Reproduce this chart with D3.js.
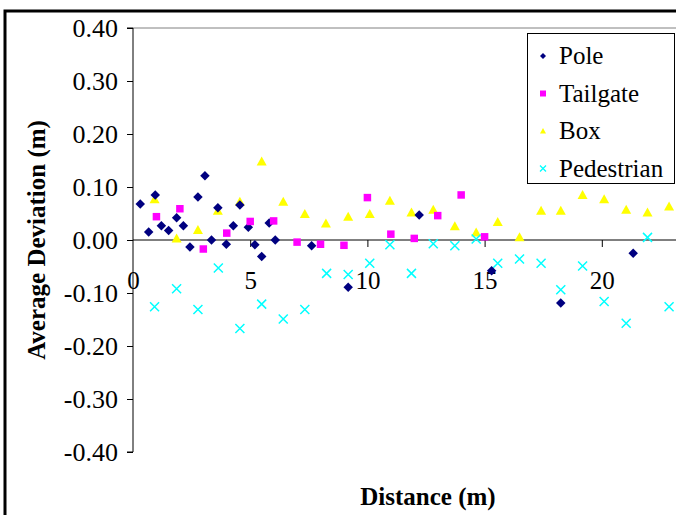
<!DOCTYPE html>
<html>
<head>
<meta charset="utf-8">
<script src="https://cdn.jsdelivr.net/npm/d3@7"></script>
<style>
  body { margin: 0; background: #fff; }
  svg { display: block; }
  text { font-family: "Liberation Serif", "Times New Roman", serif; }
</style>
</head>
<body>
<svg id="chart" width="676" height="515"></svg>
<script>
// ---- data ----
const seriesNames = ["Pole", "Tailgate", "Box", "Pedestrian"];

const poleX = [0.31, 0.67, 0.95, 1.21, 1.52, 1.86, 2.15, 2.43, 2.77, 3.07, 3.35, 3.62, 3.98, 4.28, 4.56, 4.92, 5.20, 5.49, 5.81, 6.07, 7.62, 9.18, 12.21, 15.30, 18.25, 21.34];
const poleY = [0.068, 0.015, 0.085, 0.027, 0.018, 0.042, 0.027, -0.013, 0.081, 0.121, 0.000, 0.061, -0.008, 0.027, 0.066, 0.024, -0.009, -0.031, 0.032, 0.000, -0.011, -0.089, 0.047, -0.058, -0.119, -0.025];

const tailgateX = [1, 2, 3, 4, 5, 6, 7, 8, 9, 10, 11, 12, 13, 14, 15];
const tailgateY = [0.044, 0.059, -0.017, 0.013, 0.035, 0.036, -0.004, -0.008, -0.010, 0.080, 0.011, 0.003, 0.046, 0.085, 0.006];

const boxX = [0.92, 1.86, 2.77, 3.62, 4.56, 5.49, 6.41, 7.33, 8.23, 9.18, 10.10, 10.96, 11.88, 12.81, 13.73, 14.64, 15.56, 16.49, 17.41, 18.25, 19.18, 20.10, 21.04, 21.95, 22.87];
const boxY = [0.077, 0.003, 0.019, 0.055, 0.072, 0.148, 0.072, 0.049, 0.031, 0.044, 0.049, 0.074, 0.052, 0.057, 0.026, 0.014, 0.034, 0.005, 0.055, 0.055, 0.085, 0.077, 0.057, 0.052, 0.063];

const pedestrianX = [0.92, 1.86, 2.77, 3.64, 4.56, 5.49, 6.41, 7.33, 8.26, 9.18, 10.10, 10.96, 11.88, 12.81, 13.73, 14.64, 15.56, 16.49, 17.41, 18.25, 19.18, 20.10, 21.04, 21.95, 22.87];
const pedestrianY = [-0.126, -0.092, -0.131, -0.053, -0.167, -0.121, -0.149, -0.131, -0.063, -0.065, -0.044, -0.009, -0.063, -0.007, -0.011, 0.002, -0.044, -0.036, -0.044, -0.094, -0.049, -0.116, -0.157, 0.005, -0.126];

const xTicks = [0, 5, 10, 15, 20];
const yTicks = [-0.4, -0.3, -0.2, -0.1, 0.0, 0.1, 0.2, 0.3, 0.4];
const xTitle = "Distance (m)";
const yTitle = "Average Deviation (m)";

// ---- drawing ----
const svg = d3.select("#chart");
const W = 676, H = 515;

svg.append("rect").attr("x", 0).attr("y", 0).attr("width", W).attr("height", H).attr("fill", "#fff");
// outer chart frame (right/bottom beyond crop)
svg.append("rect").attr("x", 5).attr("y", 11).attr("width", W + 20).attr("height", H + 20)
  .attr("fill", "none").attr("stroke", "#000").attr("stroke-width", 3);

const x = d3.scaleLinear().domain([0, 25]).range([133, 719]);
const y = d3.scaleLinear().domain([-0.4, 0.4]).range([452, 28]);

// plot area top border
svg.append("line").attr("x1", x(0)).attr("x2", W).attr("y1", y(0.4)).attr("y2", y(0.4))
  .attr("stroke", "#808080").attr("stroke-width", 1);

// y axis
const yAxis = d3.axisLeft(y).tickValues(yTicks).tickSize(6).tickPadding(9)
  .tickFormat(d => (Math.abs(d) < 1e-9 ? 0 : d).toFixed(2));
const gy = svg.append("g").attr("transform", `translate(${x(0)},0)`).call(yAxis);
gy.select(".domain").attr("stroke", "#000").attr("d", `M-6,${y(0.4)}H0V${y(-0.4)}H-6`);
gy.selectAll("line").attr("stroke", "#000");
gy.selectAll("text").attr("font-size", 26).attr("fill", "#000")
  .attr("font-family", "Liberation Serif");

// x axis at y=0
const xAxis = d3.axisBottom(x).tickValues(xTicks).tickSize(7).tickPadding(24).tickFormat(d3.format("d"));
const gx = svg.append("g").attr("transform", `translate(0,${y(0)})`).call(xAxis);
gx.select(".domain").attr("stroke", "#000").attr("d", `M${x(0)},0H${W}`);
gx.selectAll("line").attr("stroke", "#000");
gx.selectAll(".tick").filter(d => d === 0).select("line").remove();
gx.selectAll("text").attr("font-size", 25).attr("fill", "#000")
  .attr("font-family", "Liberation Serif");

// titles
svg.append("text").attr("x", 428).attr("y", 505).attr("text-anchor", "middle")
  .attr("font-size", 25).attr("font-weight", "bold").text(xTitle);
svg.append("text").attr("transform", `translate(45,240) rotate(-90)`).attr("text-anchor", "middle")
  .attr("font-size", 25).attr("font-weight", "bold").text(yTitle);

// markers
const plot = svg.append("g");
function drawSeries(xs, ys, type, color, size) {
  const data = xs.map((v, i) => [v, ys[i]]);
  if (type === "cross") {
    const r = size / 2;
    plot.append("g").selectAll("path").data(data).join("path")
      .attr("d", d => `M${x(d[0]) - r},${y(d[1]) - r}L${x(d[0]) + r},${y(d[1]) + r}M${x(d[0]) - r},${y(d[1]) + r}L${x(d[0]) + r},${y(d[1]) - r}`)
      .attr("stroke", color).attr("stroke-width", 1.5).attr("fill", "none");
  } else {
    plot.append("g").selectAll("path").data(data).join("path")
      .attr("transform", d => `translate(${x(d[0])},${y(d[1])})`)
      .attr("d", markerPath(type, size))
      .attr("fill", color);
  }
}
function markerPath(type, s) {
  const r = s / 2;
  if (type === "diamond") return `M0,${-r}L${r},0L0,${r}L${-r},0Z`;
  if (type === "square") return `M${-r},${-r}H${r}V${r}H${-r}Z`;
  if (type === "triangle") return `M0,${-r}L${r},${r * 0.8}L${-r},${r * 0.8}Z`;
  return "";
}
const colors = ["#000080", "#FF00FF", "#FFFF00", "#00FFFF"];
const types = ["diamond", "square", "triangle", "cross"];
drawSeries(boxX, boxY, "triangle", colors[2], 10);
drawSeries(pedestrianX, pedestrianY, "cross", colors[3], 9);
drawSeries(poleX, poleY, "diamond", colors[0], 9.5);
drawSeries(tailgateX, tailgateY, "square", colors[1], 7.5);

// legend
const lg = svg.append("g");
lg.append("rect").attr("x", 527.5).attr("y", 33.5).attr("width", 147).attr("height", 150)
  .attr("fill", "#fff").attr("stroke", "#000").attr("stroke-width", 1);
seriesNames.forEach((name, i) => {
  const cy = 56 + i * 37.5;
  const mx = 543;
  if (types[i] === "cross") {
    const r = 3;
    lg.append("path").attr("d", `M${mx - r},${cy - r}L${mx + r},${cy + r}M${mx - r},${cy + r}L${mx + r},${cy - r}`)
      .attr("stroke", colors[i]).attr("stroke-width", 1.3);
  } else {
    lg.append("path").attr("transform", `translate(${mx},${cy})`)
      .attr("d", markerPath(types[i], 6)).attr("fill", colors[i]);
  }
  lg.append("text").attr("x", 559).attr("y", cy + 8).attr("font-size", 25).attr("fill", "#000").text(name);
});
</script>
</body>
</html>
